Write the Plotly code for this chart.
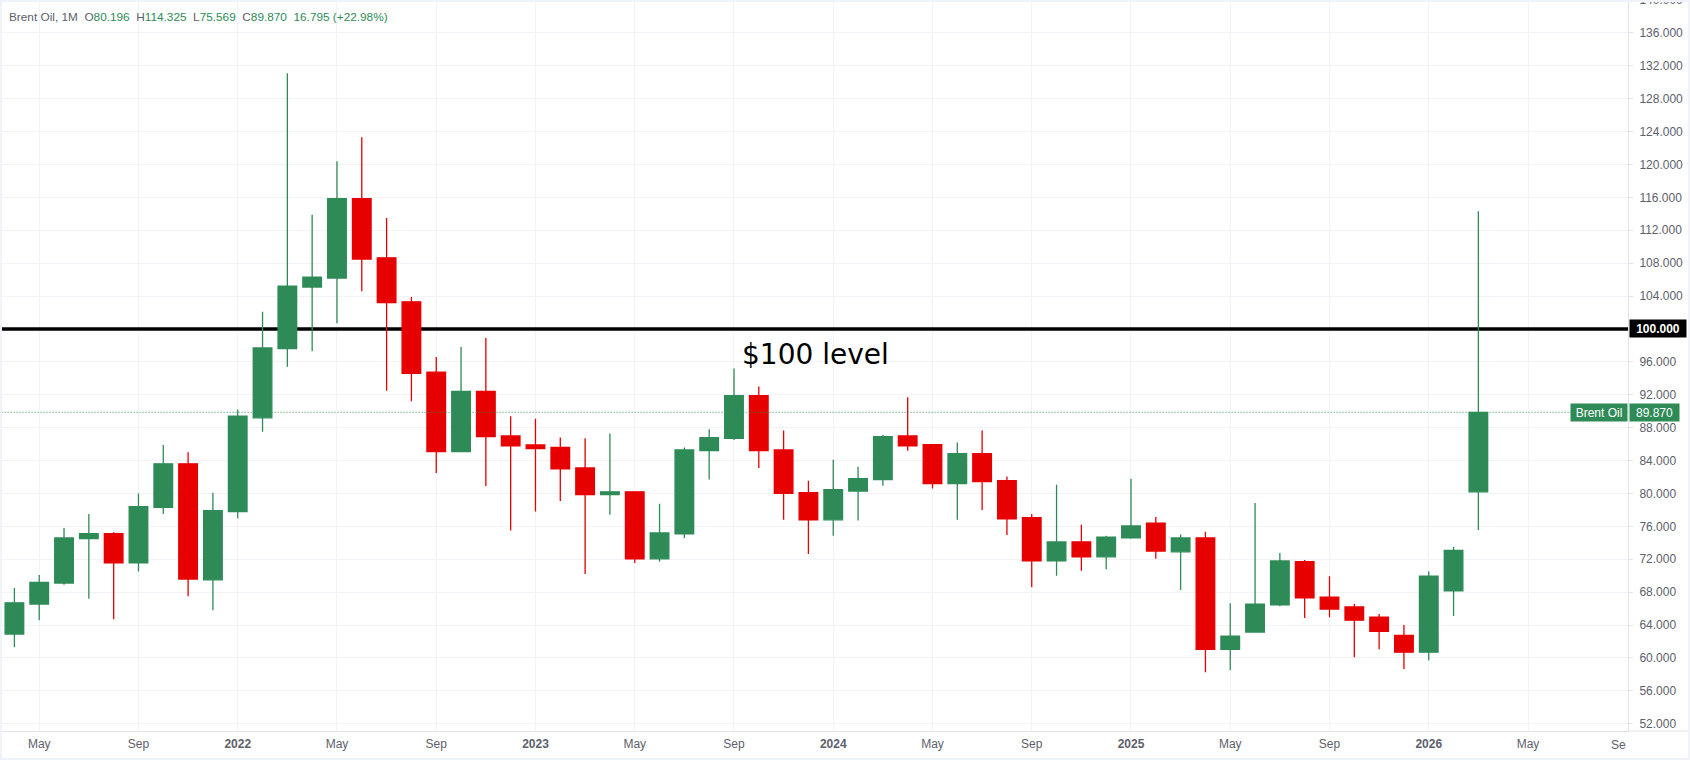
import plotly.graph_objects as go

# monthly Brent candles, Apr 2021 to Mar 2026
months = ['2021-04','2021-05','2021-06','2021-07','2021-08','2021-09','2021-10','2021-11','2021-12',
          '2022-01','2022-02','2022-03','2022-04','2022-05','2022-06','2022-07','2022-08','2022-09','2022-10','2022-11','2022-12',
          '2023-01','2023-02','2023-03','2023-04','2023-05','2023-06','2023-07','2023-08','2023-09','2023-10','2023-11','2023-12',
          '2024-01','2024-02','2024-03','2024-04','2024-05','2024-06','2024-07','2024-08','2024-09','2024-10','2024-11','2024-12',
          '2025-01','2025-02','2025-03','2025-04','2025-05','2025-06','2025-07','2025-08','2025-09','2025-10','2025-11','2025-12',
          '2026-01','2026-02','2026-03']
opens = [62.9,66.55,69.1,74.5,75.1,71.55,78.3,83.6,69.5,
         77.8,89.2,97.6,105.1,106.2,115.85,108.65,103.3,94.75,85.1,92.4,87.0,
         85.9,85.6,83.1,79.85,80.2,72.05,75.1,85.2,86.7,91.9,85.3,80.1,
         76.8,80.3,81.7,87.0,85.95,81.2,84.85,81.55,77.05,71.8,74.1,72.3,
         74.6,76.4,72.9,74.6,61.05,63.15,66.45,71.7,67.4,66.2,64.95,62.75,
         60.7,68.15,80.196]
highs = [68.5,70.1,75.8,77.5,75.3,80.0,85.9,85.0,80.1,
         90.2,102.1,131.1,113.9,120.4,123.3,113.5,103.9,96.6,97.8,98.9,89.4,
         89.1,86.8,86.7,87.3,80.2,78.75,85.6,87.8,95.2,93.0,87.65,81.55,
         84.1,83.25,87.15,91.7,85.95,86.2,87.65,82.05,77.5,81.05,76.2,74.85,
         81.8,77.15,75.0,75.35,66.65,78.85,72.75,71.9,69.95,66.55,65.35,64.0,
         70.55,73.5,114.325]
lows = [61.3,64.6,68.9,67.2,64.7,70.5,77.5,67.5,65.8,
        77.0,87.5,95.4,97.3,100.7,104.6,92.5,91.2,82.5,85.0,80.9,75.5,
        77.8,79.1,70.2,77.4,71.55,71.7,74.6,81.7,86.5,83.1,76.8,72.65,
        74.85,76.7,80.95,85.2,80.6,76.8,78.0,74.95,68.6,70.0,70.6,70.8,
        74.5,72.05,68.25,58.25,58.5,63.1,66.3,64.85,64.95,60.1,61.05,58.65,
        59.7,65.1,75.569]
closes = [66.7,69.2,74.6,75.1,71.55,78.4,83.6,69.6,77.9,
          89.4,97.7,105.2,106.3,115.85,108.5,103.2,94.6,85.1,92.4,86.9,85.8,
          85.45,83.0,79.85,80.2,72.05,75.2,85.3,86.8,91.9,85.2,80.0,76.8,
          80.45,81.8,86.9,85.8,81.2,84.85,81.45,76.9,71.8,74.1,72.3,74.7,
          76.05,73.0,74.6,61.05,62.65,66.55,71.8,67.3,65.95,64.6,63.25,60.7,
          69.95,73.075,89.87]

# bar index of each time label (axis runs past the last candle)
time_ticks = [1,5,9,13,17,21,25,29,33,37,41,45,49,53,57,61]
time_labels = ['May','Sep','2022','May','Sep','2023','May','Sep','2024','May','Sep','2025','May','Sep','2026','May']
price_ticks = list(range(52, 141, 4))

level_price = 100
last_price = 89.87

GREEN = '#2e8b57'
RED = '#e60000'
GRID = '#f1f3f6'
AXIS = '#e0e3eb'
TEXT = '#5d606b'
FONT = 'Liberation Sans'

x = list(range(len(months)))

fig = go.Figure()

fig.add_trace(go.Candlestick(
    x=x, open=opens, high=highs, low=lows, close=closes,
    increasing=dict(line=dict(color=GREEN, width=1.3), fillcolor=GREEN),
    decreasing=dict(line=dict(color=RED, width=1.3), fillcolor=RED),
    whiskerwidth=0, hoverinfo='skip', showlegend=False,
))

year_labels = [f'<b>{t}</b>' if t.isdigit() else t for t in time_labels]

fig.update_layout(
    width=1690, height=760,
    margin=dict(l=2, r=62, t=0, b=29),
    paper_bgcolor='white', plot_bgcolor='white',
    font=dict(family=FONT, size=12, color=TEXT),
    boxgap=0.25, boxgroupgap=0,
    showlegend=False,
    xaxis=dict(range=[-0.5, 65.03], rangeslider=dict(visible=False), automargin=False,
               tickmode='array', tickvals=time_ticks + [65], ticktext=year_labels + [''],
               showgrid=True, gridcolor=GRID, gridwidth=1, zeroline=False,
               showline=True, linecolor=AXIS, linewidth=1, ticks='', ticklabelstandoff=2,
               tickfont=dict(family=FONT, size=12, color=TEXT)),
    yaxis=dict(range=[51.12, 140], side='right', tickmode='array', tickvals=price_ticks, automargin=False,
               ticktext=[f'{p:.3f}' for p in price_ticks], ticklabeloverflow='allow',
               showgrid=True, gridcolor=GRID, gridwidth=1, zeroline=False,
               showline=True, linecolor=AXIS, linewidth=1, ticks='outside', ticklen=4, tickcolor=AXIS,
               ticklabelstandoff=4, tickfont=dict(family=FONT, size=12, color=TEXT)),
)

# horizontal levels
fig.add_shape(type='line', xref='x', yref='y', x0=-1, x1=66, y0=level_price, y1=level_price,
              line=dict(color='black', width=3.5), layer='between')
fig.add_shape(type='line', xref='x', yref='y', x0=-1, x1=66, y0=last_price, y1=last_price,
              line=dict(color=GREEN, width=1, dash='1px,2px'), layer='above')

# window frame and the strip under the price scale
fig.add_shape(type='line', xref='paper', yref='paper', x0=1, x1=1.037, y0=0, y1=0,
              line=dict(color=AXIS, width=1), layer='above')
fig.add_shape(type='rect', xref='paper', yref='paper', x0=-2/1626, x1=1688/1626, y0=-29/731, y1=1,
              line=dict(color='#f0f3fa', width=4), fillcolor='rgba(0,0,0,0)', layer='above')

g = lambda s: f'<span style="color:{GREEN}">{s}</span>'
header = ('Brent Oil, 1M&nbsp;&nbsp;O' + g('80.196') + '&nbsp;&nbsp;H' + g('114.325') + '&nbsp;&nbsp;L' + g('75.569')
          + '&nbsp;&nbsp;C' + g('89.870') + '&nbsp;&nbsp;' + g('16.795 (+22.98%)'))
fig.add_annotation(text=header, xref='paper', yref='paper', x=0, y=1, xanchor='left', yanchor='top',
                   xshift=6, yshift=-9, showarrow=False, borderpad=0, font=dict(family=FONT, size=11.8, color=TEXT))

fig.add_annotation(text='$100 level', xref='x', yref='y', x=29.25, y=96.9, xanchor='left', yanchor='middle',
                   showarrow=False, font=dict(family='DejaVu Sans', size=28, color='black'))

# price scale tags
fig.add_annotation(text='<b>100.000</b>', xref='paper', yref='y', x=1, y=level_price, xanchor='left', yanchor='middle',
                   xshift=1, width=56, height=17, bgcolor='black', showarrow=False, borderpad=0,
                   font=dict(family=FONT, size=12, color='white'))
fig.add_annotation(text='89.870', xref='paper', yref='y', x=1, y=last_price, xanchor='left', yanchor='middle',
                   xshift=1, width=49, height=17, bgcolor=GREEN, showarrow=False, borderpad=0,
                   font=dict(family=FONT, size=12, color='white'))
fig.add_annotation(text='Brent Oil', xref='paper', yref='y', x=1, y=last_price, xanchor='right', yanchor='middle',
                   xshift=0, width=56, height=17, bgcolor=GREEN, showarrow=False, borderpad=0,
                   font=dict(family=FONT, size=12, color='white'))

# Sep 2026 label is cut by the price scale in the original
fig.add_annotation(text='Se', xref='x', yref='paper', x=65, y=0, xanchor='right', yanchor='top',
                   yshift=-6, showarrow=False, borderpad=0, font=dict(family=FONT, size=12, color=TEXT))

fig.write_html("out.html", config=dict(displayModeBar=False), post_script="document.body.style.margin='0';")
